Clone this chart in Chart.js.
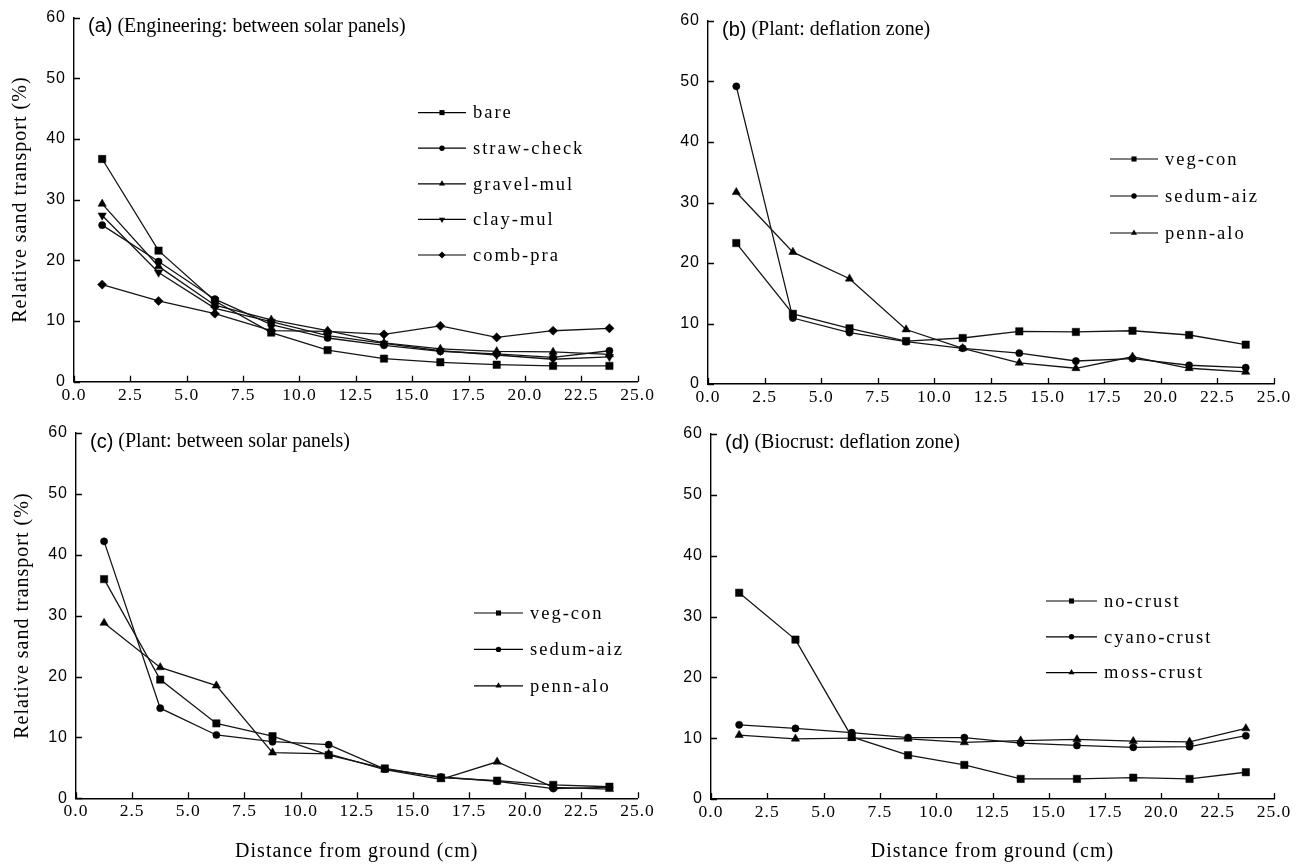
<!DOCTYPE html>
<html>
<head>
<meta charset="utf-8">
<script src="https://cdn.jsdelivr.net/npm/chart.js@4.4.0/dist/chart.umd.min.js"></script>
<style>
  html, body { margin: 0; padding: 0; background: #fff; }
  #wrap { position: relative; width: 1302px; height: 866px; }
  #wrap canvas { position: absolute; left: 0; top: 0; }
</style>
</head>
<body>
<div id="wrap">
  <canvas id="panelA" width="1302" height="866"></canvas>
  <canvas id="panelB" width="1302" height="866"></canvas>
  <canvas id="panelC" width="1302" height="866"></canvas>
  <canvas id="panelD" width="1302" height="866"></canvas>
</div>
<script>
// sampling heights (cm)
const heights = [1.25, 3.75, 6.25, 8.75, 11.25, 13.75, 16.25, 18.75, 21.25, 23.75];

// (a) Engineering: between solar panels
const bare       = [36.7, 21.6, 13.3, 8.1, 5.2, 3.8, 3.2, 2.8, 2.6, 2.6];
const strawCheck = [25.8, 19.8, 13.6, 9.4, 7.2, 6.0, 5.0, 4.6, 4.0, 5.1];
const gravelMul  = [29.3, 19.0, 12.6, 10.2, 8.4, 6.4, 5.4, 5.0, 4.9, 4.5];
const clayMul    = [27.4, 18.0, 12.1, 9.9, 7.6, 6.3, 5.1, 4.4, 3.7, 4.1];
const combPra    = [16.0, 13.3, 11.2, 8.4, 8.3, 7.8, 9.2, 7.3, 8.4, 8.8];

// (b) Plant: deflation zone
const vegConB    = [23.3, 11.6, 9.2, 7.1, 7.6, 8.7, 8.6, 8.8, 8.1, 6.5];
const sedumAizB  = [49.2, 10.9, 8.5, 7.0, 5.9, 5.1, 3.8, 4.2, 3.1, 2.7];
const pennAloB   = [31.7, 21.8, 17.4, 9.0, 5.9, 3.5, 2.6, 4.5, 2.6, 2.0];

// (c) Plant: between solar panels
const vegConC    = [36.0, 19.5, 12.3, 10.2, 7.1, 4.9, 3.4, 2.9, 2.2, 1.9];
const sedumAizC  = [42.2, 14.8, 10.4, 9.3, 8.8, 4.8, 3.5, 2.8, 1.6, 1.8];
const pennAloC   = [28.8, 21.5, 18.5, 7.5, 7.3, 4.7, 3.1, 6.0, 1.8, 1.5];

// (d) Biocrust: deflation zone
const noCrust    = [33.9, 26.2, 10.2, 7.2, 5.6, 3.3, 3.3, 3.5, 3.3, 4.4];
const cyanoCrust = [12.2, 11.6, 10.9, 10.1, 10.1, 9.2, 8.8, 8.5, 8.6, 10.4];
const mossCrust  = [10.5, 9.9, 10.0, 9.9, 9.3, 9.6, 9.8, 9.5, 9.4, 11.6];

const xMin = 0, xMax = 25, xStep = 2.5;
const yMin = 0, yMax = 60, yStep = 10;

const SERIF = "'Liberation Serif', 'Times New Roman', serif";
const SANS = "'Liberation Sans', Arial, sans-serif";

const markers = {
  square:   { pointStyle: 'rect', radius: 5.2, rotation: 0, legendRadius: 3.6 },
  circle:   { pointStyle: 'circle', radius: 3.6, rotation: 0, legendRadius: 2.7 },
  triangle: { pointStyle: 'triangle', radius: 4.8, rotation: 0, legendRadius: 3.5 },
  down:     { pointStyle: 'triangle', radius: 4.8, rotation: 180, legendRadius: 3.5 },
  diamond:  { pointStyle: 'rectRot', radius: 4.6, rotation: 0, legendRadius: 3.5 }
};

function series(label, values, marker) {
  const m = markers[marker];
  return {
    label: label,
    data: heights.map((h, i) => ({ x: h, y: values[i] })),
    borderColor: '#151515',
    borderWidth: 1.3,
    tension: 0,
    pointStyle: m.pointStyle,
    pointRotation: m.rotation,
    pointRadius: m.radius,
    pointBackgroundColor: '#000',
    pointBorderColor: '#000',
    pointBorderWidth: 0.5,
    legendRadius: m.legendRadius
  };
}

// inward tick marks on both axes
const inwardTicks = {
  id: 'inwardTicks',
  afterDraw(chart) {
    const { ctx, chartArea, scales } = chart;
    ctx.save();
    ctx.strokeStyle = '#000';
    ctx.lineWidth = 1.3;
    ctx.beginPath();
    scales.x.ticks.forEach(t => {
      const px = Math.round(scales.x.getPixelForValue(t.value)) + 0.5;
      ctx.moveTo(px, chartArea.bottom);
      ctx.lineTo(px, chartArea.bottom - 6);
    });
    scales.y.ticks.forEach(t => {
      const py = Math.round(scales.y.getPixelForValue(t.value)) + 0.5;
      ctx.moveTo(chartArea.left, py);
      ctx.lineTo(chartArea.left + 6, py);
    });
    ctx.stroke();
    ctx.restore();
  }
};

// panel label "(a) (....)" in the top-left of the plot
const panelLabel = {
  id: 'panelLabel',
  afterDraw(chart, args, opts) {
    const ctx = chart.ctx;
    const x = chart.chartArea.left + opts.dx;
    const y = chart.chartArea.top + opts.dy;
    ctx.save();
    ctx.fillStyle = '#000';
    ctx.textBaseline = 'middle';
    ctx.letterSpacing = '0px';
    ctx.font = '20px ' + SANS;
    ctx.fillText(opts.tag, x, y);
    const w = ctx.measureText(opts.tag).width;
    ctx.font = '20px ' + SERIF;
    ctx.fillText(opts.text, x + w + 5, y);
    ctx.restore();
  }
};

// legend with line + marker samples
const lineLegend = {
  id: 'lineLegend',
  afterDraw(chart, args, opts) {
    const ctx = chart.ctx;
    const area = chart.chartArea;
    ctx.save();
    chart.data.datasets.forEach((ds, i) => {
      const x0 = area.left + opts.dx;
      const y = area.top + opts.dy + i * opts.gap;
      ctx.strokeStyle = '#000';
      ctx.lineWidth = 1.2;
      ctx.beginPath();
      ctx.moveTo(x0, y);
      ctx.lineTo(x0 + opts.lineLen, y);
      ctx.stroke();
      ctx.fillStyle = '#000';
      Chart.helpers.drawPoint(ctx, {
        pointStyle: ds.pointStyle,
        rotation: ds.pointRotation,
        radius: ds.legendRadius,
        borderWidth: 0
      }, x0 + opts.lineLen / 2, y);
      ctx.font = '18.5px ' + SERIF;
      ctx.letterSpacing = '2px';
      ctx.textBaseline = 'middle';
      ctx.fillText(ds.label, x0 + opts.lineLen + 7, y + 1);
    });
    ctx.restore();
  }
};

const spacing = {
  id: 'spacing',
  beforeDraw(chart) { chart.ctx.letterSpacing = '1px'; }
};

const Y_AXIS_W = 74;
const X_AXIS_H = 66;

function makePanel(id, box, datasets, cfg) {
  new Chart(document.getElementById(id), {
    type: 'line',
    data: { datasets: datasets },
    plugins: [spacing, inwardTicks, panelLabel, lineLegend],
    options: {
      responsive: false,
      devicePixelRatio: 1,
      animation: false,
      events: [],
      layout: {
        padding: {
          left: box.left - Y_AXIS_W,
          top: box.top,
          right: 1302 - box.right,
          bottom: 866 - box.bottom - X_AXIS_H
        }
      },
      plugins: {
        legend: { display: false },
        tooltip: { enabled: false },
        panelLabel: { tag: cfg.tag, text: cfg.title, dx: 14, dy: 9 },
        lineLegend: cfg.legend
      },
      scales: {
        x: {
          type: 'linear',
          min: xMin, max: xMax,
          afterFit(s) { s.height = X_AXIS_H; },
          grid: { display: false, drawTicks: false },
          border: { display: true, color: '#000', width: 1.4 },
          ticks: {
            stepSize: xStep,
            autoSkip: false,
            maxRotation: 0,
            padding: 3,
            color: '#000',
            font: { family: SERIF, size: 17.5 },
            callback: v => v.toFixed(1)
          },
          title: {
            display: cfg.xTitle,
            text: 'Distance from ground (cm)',
            color: '#000',
            font: { family: SERIF, size: 20 },
            padding: { top: 0, bottom: 1 }
          }
        },
        y: {
          min: yMin, max: yMax,
          afterFit(s) { s.width = Y_AXIS_W; },
          grid: { display: false, drawTicks: false },
          border: { display: true, color: '#000', width: 1.4 },
          ticks: {
            stepSize: yStep,
            padding: 8,
            color: '#000',
            font: { family: SANS, size: 16 }
          },
          title: {
            display: cfg.yTitle,
            text: 'Relative sand transport (%)',
            color: '#000',
            font: { family: SERIF, size: 20 },
            padding: { top: 9, bottom: 0 }
          }
        }
      }
    }
  });
}

makePanel('panelA', { left: 74, top: 17.5, right: 637.6, bottom: 381.7 }, [
  series('bare', bare, 'square'),
  series('straw-check', strawCheck, 'circle'),
  series('gravel-mul', gravelMul, 'triangle'),
  series('clay-mul', clayMul, 'down'),
  series('comb-pra', combPra, 'diamond')
], { tag: '(a)', title: '(Engineering: between solar panels)', xTitle: false, yTitle: true,
     legend: { dx: 344, dy: 95, gap: 35.6, lineLen: 48 } });

makePanel('panelB', { left: 708, top: 21, right: 1274, bottom: 384 }, [
  series('veg-con', vegConB, 'square'),
  series('sedum-aiz', sedumAizB, 'circle'),
  series('penn-alo', pennAloB, 'triangle')
], { tag: '(b)', title: '(Plant: deflation zone)', xTitle: false, yTitle: false,
     legend: { dx: 402, dy: 138, gap: 37, lineLen: 48 } });

makePanel('panelC', { left: 76, top: 433, right: 637.5, bottom: 798.3 }, [
  series('veg-con', vegConC, 'square'),
  series('sedum-aiz', sedumAizC, 'circle'),
  series('penn-alo', pennAloC, 'triangle')
], { tag: '(c)', title: '(Plant: between solar panels)', xTitle: true, yTitle: true,
     legend: { dx: 398, dy: 180, gap: 36.4, lineLen: 49 } });

makePanel('panelD', { left: 711, top: 434, right: 1274, bottom: 799 }, [
  series('no-crust', noCrust, 'square'),
  series('cyano-crust', cyanoCrust, 'circle'),
  series('moss-crust', mossCrust, 'triangle')
], { tag: '(d)', title: '(Biocrust: deflation zone)', xTitle: true, yTitle: false,
     legend: { dx: 335, dy: 167, gap: 35.8, lineLen: 51 } });
</script>
</body>
</html>
